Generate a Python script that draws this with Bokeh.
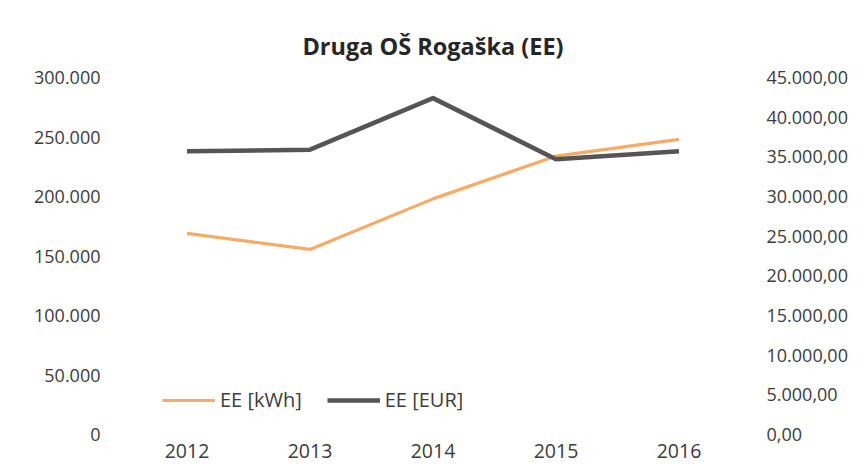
from bokeh.plotting import figure
from bokeh.models import Range1d, LinearAxis, FixedTicker, Legend, LegendItem, FactorRange
from bokeh.embed import file_html
from bokeh.resources import INLINE

# ---- data ----
years = ["2012", "2013", "2014", "2015", "2016"]
ee_kwh = [169000, 155500, 198000, 234000, 248000]
ee_eur = [35700, 35900, 42400, 34700, 35700]

left_ticks = [0, 50000, 100000, 150000, 200000, 250000, 300000]
left_labels = ["0", "50.000", "100.000", "150.000", "200.000", "250.000", "300.000"]
right_ticks = [0, 5000, 10000, 15000, 20000, 25000, 30000, 35000, 40000, 45000]
right_labels = ["0,00", "5.000,00", "10.000,00", "15.000,00", "20.000,00",
                "25.000,00", "30.000,00", "35.000,00", "40.000,00", "45.000,00"]
title_text = "Druga OŠ Rogaška (EE)"
series_names = ["EE [kWh]", "EE [EUR]"]

FONT = "Open Sans"
TXT = "#3c3c3c"
ORANGE = "#F6AC66"
DARK = "#555555"

p = figure(width=850, height=464,
           x_range=FactorRange(*years),
           y_range=Range1d(left_ticks[0], left_ticks[-1]),
           output_backend="svg", toolbar_location=None,
           min_border_left=125, min_border_right=104,
           min_border_top=77, min_border_bottom=30)
p.styles = {"margin-bottom": "-8px"}
p.x_range.range_padding = 0
p.extra_y_ranges = {"eur": Range1d(right_ticks[0], right_ticks[-1])}

p.outline_line_color = None
p.xgrid.visible = False
p.ygrid.visible = False
p.background_fill_color = "white"
p.border_fill_color = "white"

# title
p.title.text = title_text
p.title.align = "center"
p.title.text_font = FONT
p.title.text_font_style = "bold"
p.title.text_font_size = "23.5px"
p.title.text_color = "#262626"
p.title.standoff = 31

# left axis
yl = p.yaxis[0]
yl.ticker = FixedTicker(ticks=left_ticks)
yl.major_label_overrides = dict(zip(left_ticks, left_labels))
yl.major_label_standoff = 19

# right axis
yr = LinearAxis(y_range_name="eur", ticker=FixedTicker(ticks=right_ticks),
                major_label_overrides=dict(zip(right_ticks, right_labels)))
yr.major_label_standoff = 20
p.add_layout(yr, "right")

xa = p.xaxis[0]
xa.major_label_standoff = 3

for ax in [yl, yr, xa]:
    ax.axis_line_color = None
    ax.major_tick_line_color = None
    ax.minor_tick_line_color = None
    ax.major_label_text_font = FONT
    ax.major_label_text_font_size = "18px"
    ax.major_label_text_color = TXT
xa.major_label_text_font_size = "19.5px"

r1 = p.line(years, ee_kwh, line_color=ORANGE, line_width=3.2, line_join="round")
r2 = p.line(years, ee_eur, line_color=DARK, line_width=4.5, line_join="round",
            y_range_name="eur")

legend = Legend(items=[LegendItem(label=series_names[0], renderers=[r1]),
                       LegendItem(label=series_names[1], renderers=[r2])],
                location=(37, 21), orientation="horizontal",
                border_line_color=None, background_fill_alpha=0,
                padding=0, margin=0, glyph_width=53, label_standoff=5,
                spacing=25, label_text_font=FONT, label_text_font_size="20px",
                label_text_color=TXT)
p.add_layout(legend, "center")

open("out.html", "w").write(file_html(p, INLINE))
